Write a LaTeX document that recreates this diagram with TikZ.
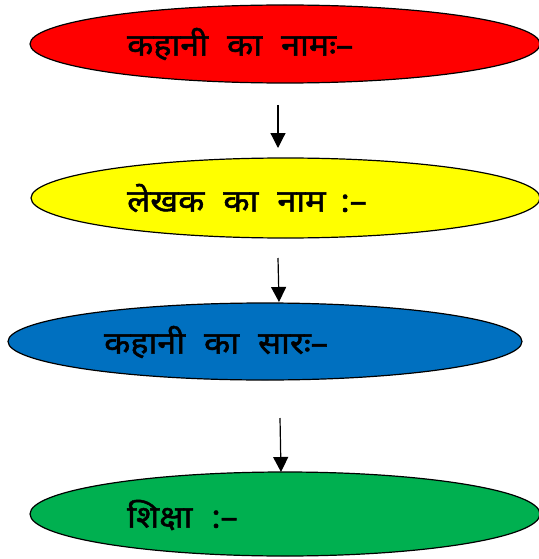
\documentclass[tikz,border=0pt]{standalone}
\usepackage{fontspec}
\newfontfamily\dev[Script=Devanagari,FakeBold=1.6,FakeStretch=1.1]{Noto Sans}
\usetikzlibrary{shapes.geometric,arrows.meta}
\definecolor{cred}{HTML}{FF0000}
\definecolor{cyellow}{HTML}{FFFF00}
\definecolor{cblue}{HTML}{0070C0}
\definecolor{cgreen}{HTML}{00B050}
\tikzset{
  oval/.style={ellipse,draw=black,line width=1.2pt,inner sep=0pt},
  lbl/.style={anchor=west,inner sep=0pt,font=\dev\fontsize{31}{34}\selectfont},
  arr/.style={-{Triangle[length=15pt,width=15pt]},line width=1.2pt}
}
\newcommand{\gap}{\hspace{19pt}}
\begin{document}
\begin{tikzpicture}[x=1pt,y=-1pt]
\useasboundingbox (0,0) rectangle (538,559);
\node[oval,fill=cred,minimum width=510pt,minimum height=78pt] (e1) at (285,44) {};
\node[oval,fill=cyellow,minimum width=509pt,minimum height=80pt] (e2) at (285.5,198) {};
\node[oval,fill=cblue,minimum width=514pt,minimum height=77pt] (e3) at (265,341.5) {};
\node[oval,fill=cgreen,minimum width=510pt,minimum height=84pt] (e4) at (285,514) {};
\node[lbl] (t1) at (127,44) {कहानी\gap का\gap नामः–};
\node[lbl] (t2) at (127,198) {लेखक\gap का\gap नाम\hspace{15pt}:–};
\node[lbl] (t3) at (104,342) {कहानी\gap का\gap सारः–};
\node[lbl] (t4) at (127,515) {शिक्षा\gap :–};
\coordinate (a1s) at (278,105);
\coordinate (a1e) at (278,148);
\coordinate (a2s) at (278,258);
\coordinate (a2e) at (279,302);
\coordinate (a3s) at (280,418);
\coordinate (a3e) at (281,472);
\draw[arr] (a1s) -- (a1e);
\draw[arr] (a2s) -- (a2e);
\draw[arr] (a3s) -- (a3e);
\end{tikzpicture}
\end{document}
